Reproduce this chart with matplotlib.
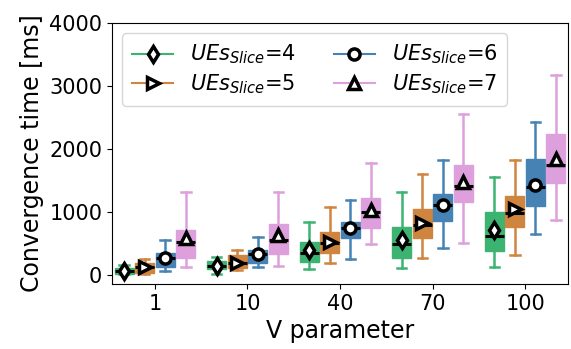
import matplotlib
matplotlib.use("Agg")
import matplotlib.pyplot as plt
from matplotlib.lines import Line2D
import numpy as np

# V parameter groups and number of UEs per slice
v_labels = ["1", "10", "40", "70", "100"]
ues = [4, 5, 6, 7]

# Convergence time statistics [ms] per UE count, one entry per V value
whislo = {
    4: [10, 16, 95, 106, 132],
    5: [20, 85, 196, 265, 318],
    6: [66, 122, 254, 434, 652],
    7: [130, 148, 493, 514, 874],
}
q1 = {
    4: [20, 90, 212, 265, 382],
    5: [35, 106, 345, 583, 768],
    6: [125, 196, 583, 858, 1102],
    7: [265, 334, 742, 1165, 1467],
}
med = {
    4: [64, 150, 355, 488, 620],
    5: [125, 186, 504, 795, 981],
    6: [265, 334, 752, 1113, 1404],
    7: [517, 556, 1006, 1420, 1749],
}
mean = {
    4: [72, 150, 397, 556, 715],
    5: [130, 192, 530, 831, 1044],
    6: [268, 334, 752, 1113, 1431],
    7: [585, 636, 1033, 1483, 1844],
}
q3 = {
    4: [115, 222, 530, 768, 997],
    5: [190, 318, 679, 1044, 1256],
    6: [350, 397, 847, 1283, 1844],
    7: [715, 806, 1229, 1744, 2242],
}
whishi = {
    4: [155, 281, 847, 1324, 1563],
    5: [250, 397, 1086, 1606, 1828],
    6: [556, 599, 1192, 1828, 2437],
    7: [1324, 1324, 1785, 2560, 3180],
}

colors = {4: "#3cb371", 5: "#cf853f", 6: "#4682b4", 7: "#dda0dd"}
markers = {4: "d", 5: ">", 6: "o", 7: "^"}

fig = plt.figure(figsize=(5.71, 3.49), dpi=100)
ax = fig.add_axes([0.196, 0.186, 0.799, 0.748])

step = 0.222
box_w = 0.205
x = np.arange(len(v_labels))

for k, u in enumerate(ues):
    offset = (k - 1.5) * step
    stats = []
    for i in range(len(v_labels)):
        stats.append(dict(med=med[u][i], q1=q1[u][i], q3=q3[u][i],
                          whislo=whislo[u][i], whishi=whishi[u][i],
                          mean=mean[u][i], fliers=[]))
    c = colors[u]
    ax.bxp(stats, positions=x + offset, widths=box_w, patch_artist=True,
           showmeans=True, showfliers=False,
           boxprops=dict(facecolor=c, edgecolor=c, linewidth=1.0),
           whiskerprops=dict(color=c, linewidth=1.8),
           capprops=dict(color=c, linewidth=1.8),
           medianprops=dict(color="black", linewidth=2.2),
           meanprops=dict(marker=markers[u], markerfacecolor="white",
                          markeredgecolor="black", markeredgewidth=2.5,
                          markersize=8))

ax.set_xticks(x)
ax.set_xticklabels(v_labels)
ax.set_xlim(-0.465, 4.465)
ax.set_ylim(-143, 4000)
ax.set_yticks([0, 1000, 2000, 3000, 4000])
ax.tick_params(axis="both", labelsize=15)
ax.set_xlabel("V parameter", fontsize=17)
ax.set_ylabel("Convergence time [ms]", fontsize=17)

handles = [Line2D([0], [0], color=colors[u], marker=markers[u],
                  markerfacecolor="white", markeredgecolor="black",
                  markeredgewidth=2.5, markersize=8, linewidth=1.5)
           for u in ues]
labels = [r"$UEs_{Slice}$=%d" % u for u in ues]
ax.legend(handles, labels, loc="upper left", ncol=2, fontsize=15,
          handlelength=2.0, columnspacing=1.8, labelspacing=0.3,
          borderpad=0.45, handletextpad=0.8)

fig.savefig("out.png", dpi=100)
